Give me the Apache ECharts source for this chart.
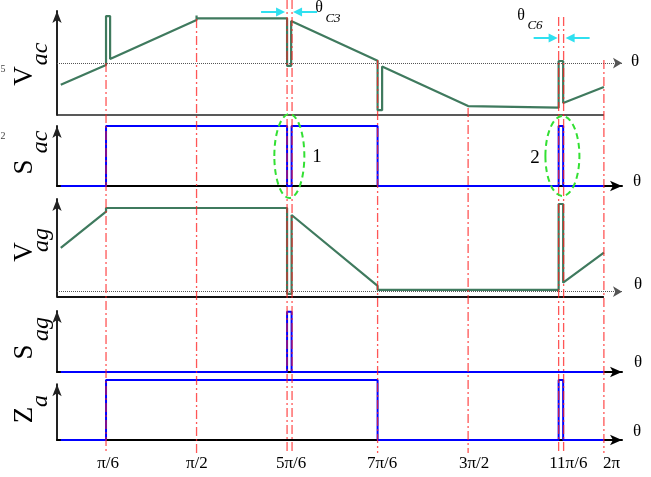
<!DOCTYPE html>
<html><head><meta charset="utf-8">
<script src="https://cdn.jsdelivr.net/npm/echarts@6/dist/echarts.min.js"></script>
<style>html,body{margin:0;padding:0;background:#fff}#c{width:651px;height:477px}</style>
</head><body><div id="c"></div>
<script>
// ---------------- data (θ in degrees, values normalised per panel) ----------------
const tickLabels     = ['π/6', 'π/2', '5π/6', '7π/6', '3π/2', '11π/6', '2π'];
const tickLabelTheta = [31.4, 90.2, 152.7, 213, 274, 336.4, 365];   // where the labels sit
const guideTheta = [30, 90, 150, 153.3, 210, 270, 330, 333.3, 360];  // red dash-dot lines
const guideTop   = [63, 19, 0, 0, 60, 108, 17, 17, 60];              // overlay units from top

const vacTheta = [0, 30, 30, 32.7, 32.7, 90, 90, 90, 150, 150, 152.7, 152.7, 210, 210, 213, 213, 270, 270, 330, 330, 333, 333, 360];
const vacValue = [0.31, 0.513, 1.015, 1.015, 0.574, 0.975, 1.02, 0.992, 0.992, 0.503, 0.503, 0.964, 0.557, 0.05, 0.05, 0.497, 0.092, 0.075, 0.075, 0.554, 0.554, 0.123, 0.287];
const vacRef = 0.533;

const sacTheta = [0, 30, 30, 150, 150, 153, 153, 210, 210, 330, 330, 333, 333, 360];
const sacValue = [0, 0, 1, 1, 0, 0, 1, 1, 0, 0, 1, 1, 0, 0];

const vagTheta = [0, 30, 30, 150, 150, 153, 153, 210, 210, 330, 330, 333, 333, 360];
const vagValue = [0.551, 0.958, 1.0, 1.0, 0.034, 0.034, 0.921, 0.124, 0.08, 0.08, 1.045, 1.045, 0.161, 0.498];
const vagRef = 0.06;

const sagTheta = [0, 150, 150, 153, 153, 360];
const sagValue = [0, 0, 1, 1, 0, 0];

const zaTheta = [0, 30, 30, 210, 210, 330, 330, 333, 333, 360];
const zaValue = [0, 0, 1, 1, 0, 0, 1, 1, 0, 0];

// ---------------- layout / style ----------------
const FONT = '"Liberation Serif", "DejaVu Serif", serif';
const X_MIN = -2.5, X_MAX = 372, END = 360;
const LEFT = 57, WIDTH = 565;
const GUIDE_BOTTOM = 453;
const GREEN = '#3f7a5e', BLUE = '#0000ff';
const panels = [
  {top: 11,    height: 104,  max: 1.067, arrowX: false},  // Vac
  {top: 126,   height: 60,   max: 1.0,   arrowX: true},   // Sac
  {top: 199,   height: 98,   max: 1.101, arrowX: false},  // Vag
  {top: 311,   height: 61,   max: 1.012, arrowX: true},   // Sag
  {top: 384.3, height: 55.7, max: 0.928, arrowX: true}    // Za
];

const zip = (a, b) => a.map((v, i) => [v, b[i]]);

const grid = panels.map(p => ({left: LEFT, width: WIDTH, top: p.top, height: p.height, outerBoundsMode: 'none'}));
grid.push({left: LEFT, width: WIDTH, top: 0, height: GUIDE_BOTTOM, outerBoundsMode: 'none'});

const xAxis = panels.map((p, i) => ({
  gridIndex: i, type: 'value', min: X_MIN, max: X_MAX,
  axisLine: {show: p.arrowX, onZero: false, symbol: ['none', 'arrow'], symbolSize: [8, 12],
             lineStyle: {color: '#000', width: 2}},
  axisTick: {show: false}, axisLabel: {show: false}, splitLine: {show: false}
}));
xAxis.push({
  gridIndex: 5, type: 'value', min: X_MIN, max: X_MAX,
  axisLine: {show: false}, axisTick: {show: false}, splitLine: {show: false},
  axisLabel: {
    show: true, customValues: tickLabelTheta, hideOverlap: false, margin: 2,
    fontFamily: FONT, fontSize: 17, color: '#000',
    formatter: v => { const i = tickLabelTheta.findIndex(t => Math.abs(t - v) < 1e-6); return i >= 0 ? tickLabels[i] : ''; }
  }
});

const yAxis = panels.map((p, i) => ({
  gridIndex: i, type: 'value', min: 0, max: p.max,
  axisLine: {show: true, onZero: false, symbol: ['none', 'arrow'], symbolSize: [7, 12],
             lineStyle: {color: '#222', width: 2}},
  axisTick: {show: false}, axisLabel: {show: false}, splitLine: {show: false}
}));
yAxis.push({gridIndex: 5, type: 'value', min: 0, max: GUIDE_BOTTOM, inverse: true, show: false});

const dotted = ref => ({
  silent: true, symbol: ['none', 'arrow'], symbolSize: [8, 9], label: {show: false},
  lineStyle: {type: 'dotted', color: '#555', width: 1}, emphasis: {disabled: true},
  data: [[{coord: [X_MIN, ref]}, {coord: [X_MAX, ref]}]]
});

const wave = (i, th, val, color, extra) => Object.assign({
  type: 'line', xAxisIndex: i, yAxisIndex: i, data: zip(th, val), symbol: 'none',
  clip: false, animation: false, silent: true, z: 3,
  lineStyle: {color: color, width: 2}, itemStyle: {color: color}
}, extra || {});

const series = [
  wave(0, [X_MIN, END], [0, 0], '#222', {lineStyle: {color: '#222', width: 1.4}, z: 2, markLine: dotted(vacRef)}),
  wave(0, vacTheta, vacValue, GREEN, {lineStyle: {color: GREEN, width: 2.2}}),
  wave(1, sacTheta, sacValue, BLUE),
  wave(2, [X_MIN, END], [0, 0], '#111', {lineStyle: {color: '#111', width: 2}, z: 2, markLine: dotted(vagRef)}),
  wave(2, vagTheta, vagValue, GREEN, {lineStyle: {color: GREEN, width: 2.2}}),
  wave(3, sagTheta, sagValue, BLUE),
  wave(4, zaTheta, zaValue, BLUE),
  {
    type: 'custom', xAxisIndex: 5, yAxisIndex: 5, data: zip(guideTheta, guideTop),
    clip: false, silent: true, animation: false, z: 10,
    renderItem: (params, api) => {
      const p1 = api.coord([api.value(0), api.value(1)]);
      const p2 = api.coord([api.value(0), GUIDE_BOTTOM]);
      return {type: 'line', shape: {x1: p1[0], y1: p1[1], x2: p2[0], y2: p2[1]},
              style: {stroke: 'rgba(255,30,30,0.75)', lineWidth: 1.3, lineDash: [9, 3, 2, 3]}};
    }
  }
];

const txt = (text, x, y, size, opts) => ({
  type: 'text', x: x, y: y, rotation: (opts && opts.rot) ? Math.PI / 2 : 0, silent: true, z: 20,
  style: {text: text, fontSize: size, fontFamily: FONT, fontStyle: (opts && opts.italic) ? 'italic' : 'normal',
          fill: (opts && opts.fill) || '#000', align: 'center', verticalAlign: 'middle'}
});

const labels = [
  txt('V', 25, 76, 27, {rot: 1}), txt('ac', 41, 54, 24, {rot: 1, italic: 1}),
  txt('S', 25, 167, 27, {rot: 1}), txt('ac', 41, 142, 24, {rot: 1, italic: 1}),
  txt('V', 25, 252, 27, {rot: 1}), txt('ag', 42, 240, 24, {rot: 1, italic: 1}),
  txt('S', 25, 352, 27, {rot: 1}), txt('ag', 42, 329, 24, {rot: 1, italic: 1}),
  txt('Z', 25, 415, 27, {rot: 1}), txt('a', 41, 401, 24, {rot: 1, italic: 1}),
  txt('5', 3, 69, 10, {fill: '#444'}), txt('2', 3, 136, 10, {fill: '#444'}),
  txt('θ', 635, 62, 17), txt('θ', 637, 182, 17), txt('θ', 638, 285, 17),
  txt('θ', 638, 363, 17), txt('θ', 637, 432, 17),
  txt('θ', 319, 8, 16), txt('C3', 333, 19, 13, {italic: 1}),
  txt('θ', 521, 16, 16), txt('C6', 535, 26, 13, {italic: 1}),
  txt('1', 317, 157, 19), txt('2', 535, 158, 19)
];

const chart = echarts.init(document.getElementById('c'), null, {renderer: 'canvas'});
chart.setOption({animation: false, backgroundColor: '#fff', grid, xAxis, yAxis, series, graphic: labels});

// annotations placed through the chart's own coordinate conversion
const P = (g, x, y) => chart.convertToPixel({gridIndex: g}, [x, y]);
const CYAN = '#2fe0f0', LIME = '#33e033';
const ellipse = (c, rx, ry) => ({type: 'ellipse', silent: true, z: 15, shape: {cx: c[0], cy: c[1], rx: rx, ry: ry},
  style: {fill: 'none', stroke: LIME, lineWidth: 2, lineDash: [6, 4]}});
const arrow = (tipX, y, dir) => [
  {type: 'line', silent: true, z: 15, shape: {x1: tipX - dir * 24, y1: y, x2: tipX - dir * 6, y2: y}, style: {stroke: CYAN, lineWidth: 2}},
  {type: 'polygon', silent: true, z: 15, shape: {points: [[tipX, y], [tipX - dir * 9, y - 4.5], [tipX - dir * 9, y + 4.5]]}, style: {fill: CYAN}}
];
const gx = th => P(5, th, 0)[0];
const extra = [
  ellipse(P(1, 151.5, 0.5), 15, 42),
  ellipse(P(1, 332.5, 0.5), 17, 40),
  ...arrow(gx(150) - 2, 12, 1), ...arrow(gx(153.3) + 1, 12, -1),
  ...arrow(gx(330) - 1, 38, 1), ...arrow(gx(333.3) + 2, 38, -1)
];
chart.setOption({graphic: labels.concat(extra)});
</script>
</body></html>
